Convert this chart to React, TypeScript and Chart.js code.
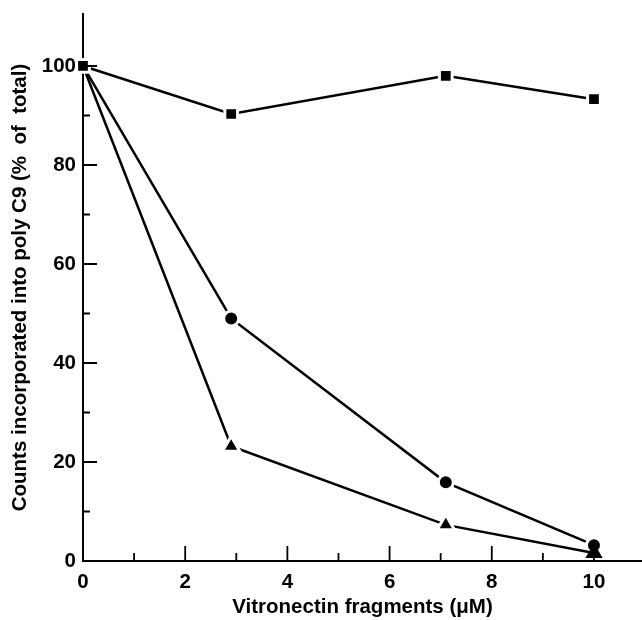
import { useEffect, useRef } from 'react';
import { Chart, registerables } from 'chart.js';

Chart.register(...registerables);

// Data
const concentrations = [0, 2.9, 7.1, 10];
const squareSeries = [100, 90.3, 98, 93.3];
const circleSeries = [100, 49, 15.9, 3.2];
const triangleSeries = [100, 23.2, 7.3, 1.6];

const xMajorTicks = [0, 2, 4, 6, 8, 10];
const xMinorTicks = [1, 3, 5, 7, 9];
const yMajorTicks = [0, 20, 40, 60, 80, 100];
const yMinorTicks = [10, 30, 50, 70, 90];

const xTitle = 'Vitronectin fragments (\u03bcM)';
const yTitle = 'Counts incorporated into poly C9 (%  of  total)';

const FONT = '"Liberation Sans", Arial, Helvetica, sans-serif';
const FONT_SIZE = 20.5;

const innerTicks = {
  id: 'innerTicks',
  afterDatasetsDraw(chart: any) {
    const { ctx } = chart;
    const xs = chart.scales.x;
    const ys = chart.scales.y;
    const y0 = ys.getPixelForValue(0);
    const x0 = xs.getPixelForValue(0);
    ctx.save();
    ctx.strokeStyle = '#000';
    ctx.lineWidth = 1.8;
    ctx.beginPath();
    xMajorTicks.forEach((v) => {
      const p = xs.getPixelForValue(v);
      ctx.moveTo(p, y0);
      ctx.lineTo(p, y0 - 15);
    });
    xMinorTicks.forEach((v) => {
      const p = xs.getPixelForValue(v);
      ctx.moveTo(p, y0);
      ctx.lineTo(p, y0 - 8);
    });
    yMajorTicks.forEach((v) => {
      const p = ys.getPixelForValue(v);
      ctx.moveTo(x0, p);
      ctx.lineTo(x0 + 14, p);
    });
    yMinorTicks.forEach((v) => {
      const p = ys.getPixelForValue(v);
      ctx.moveTo(x0, p);
      ctx.lineTo(x0 + 7, p);
    });
    ctx.stroke();
    ctx.restore();
  },
};

function makeSeries(
  values: number[],
  style: string,
  radius: number,
  hideFirst: boolean,
  borderWidths: number[]
) {
  return {
    data: concentrations.map((x, i) => ({ x, y: values[i] })),
    borderColor: '#000',
    borderWidth: 2.5,
    backgroundColor: '#000',
    pointStyle: style,
    pointBackgroundColor: '#000',
    pointBorderColor: '#fff',
    pointBorderWidth: borderWidths,
    pointRadius: values.map((_, i) => (hideFirst && i === 0 ? 0 : radius)),
    showLine: true,
    tension: 0,
    clip: false,
  };
}

export default function App() {
  const canvasRef = useRef<HTMLCanvasElement | null>(null);

  useEffect(() => {
    document.body.style.margin = '0';
    const canvas = canvasRef.current;
    if (!canvas) return;
    const chart = new Chart(canvas, {
      type: 'scatter',
      data: {
        datasets: [
          makeSeries(squareSeries, 'rect', 9, false, [3, 3, 3, 3]),
          makeSeries(triangleSeries, 'triangle', 10, true, [3, 3, 3, 0]),
          makeSeries(circleSeries, 'circle', 7.5, true, [3, 3, 3, 3]),
        ] as any,
      },
      options: {
        responsive: false,
        animation: false,
        layout: { autoPadding: false, padding: { top: 14, right: 0, left: 0, bottom: 0 } },
        plugins: {
          legend: { display: false },
          tooltip: { enabled: false },
        },
        scales: {
          x: {
            type: 'linear',
            min: 0,
            max: 10.94,
            afterBuildTicks: (scale: any) => {
              scale.ticks = xMajorTicks.map((value) => ({ value }));
            },
            afterFit: (scale: any) => {
              scale.height = 59;
              scale.paddingLeft = 0;
              scale.paddingRight = 0;
            },
            grid: { display: false, drawTicks: false },
            border: { display: true, color: '#000', width: 2 },
            ticks: {
              color: '#000',
              padding: 9,
              font: { family: FONT, size: FONT_SIZE, weight: 'bold' },
            },
            title: {
              display: true,
              text: xTitle,
              color: '#000',
              padding: { top: 0, bottom: 0 },
              font: { family: FONT, size: FONT_SIZE, weight: 'bold' },
            },
          },
          y: {
            type: 'linear',
            min: 0,
            max: 110.5,
            afterBuildTicks: (scale: any) => {
              scale.ticks = yMajorTicks.map((value) => ({ value }));
            },
            afterFit: (scale: any) => {
              scale.width = 83;
              scale.paddingTop = 0;
              scale.paddingBottom = 0;
            },
            grid: { display: false, drawTicks: false },
            border: { display: true, color: '#000', width: 2 },
            ticks: {
              color: '#000',
              padding: 7,
              font: { family: FONT, size: FONT_SIZE, weight: 'bold' },
            },
            title: {
              display: true,
              text: yTitle,
              color: '#000',
              padding: { top: 8, bottom: 0 },
              font: { family: FONT, size: FONT_SIZE, weight: 'bold' },
            },
          },
        },
      } as any,
      plugins: [innerTicks],
    });
    return () => chart.destroy();
  }, []);

  return (
    <div style={{ width: 642, height: 620 }}>
      <canvas ref={canvasRef} width={642} height={620} />
    </div>
  );
}
